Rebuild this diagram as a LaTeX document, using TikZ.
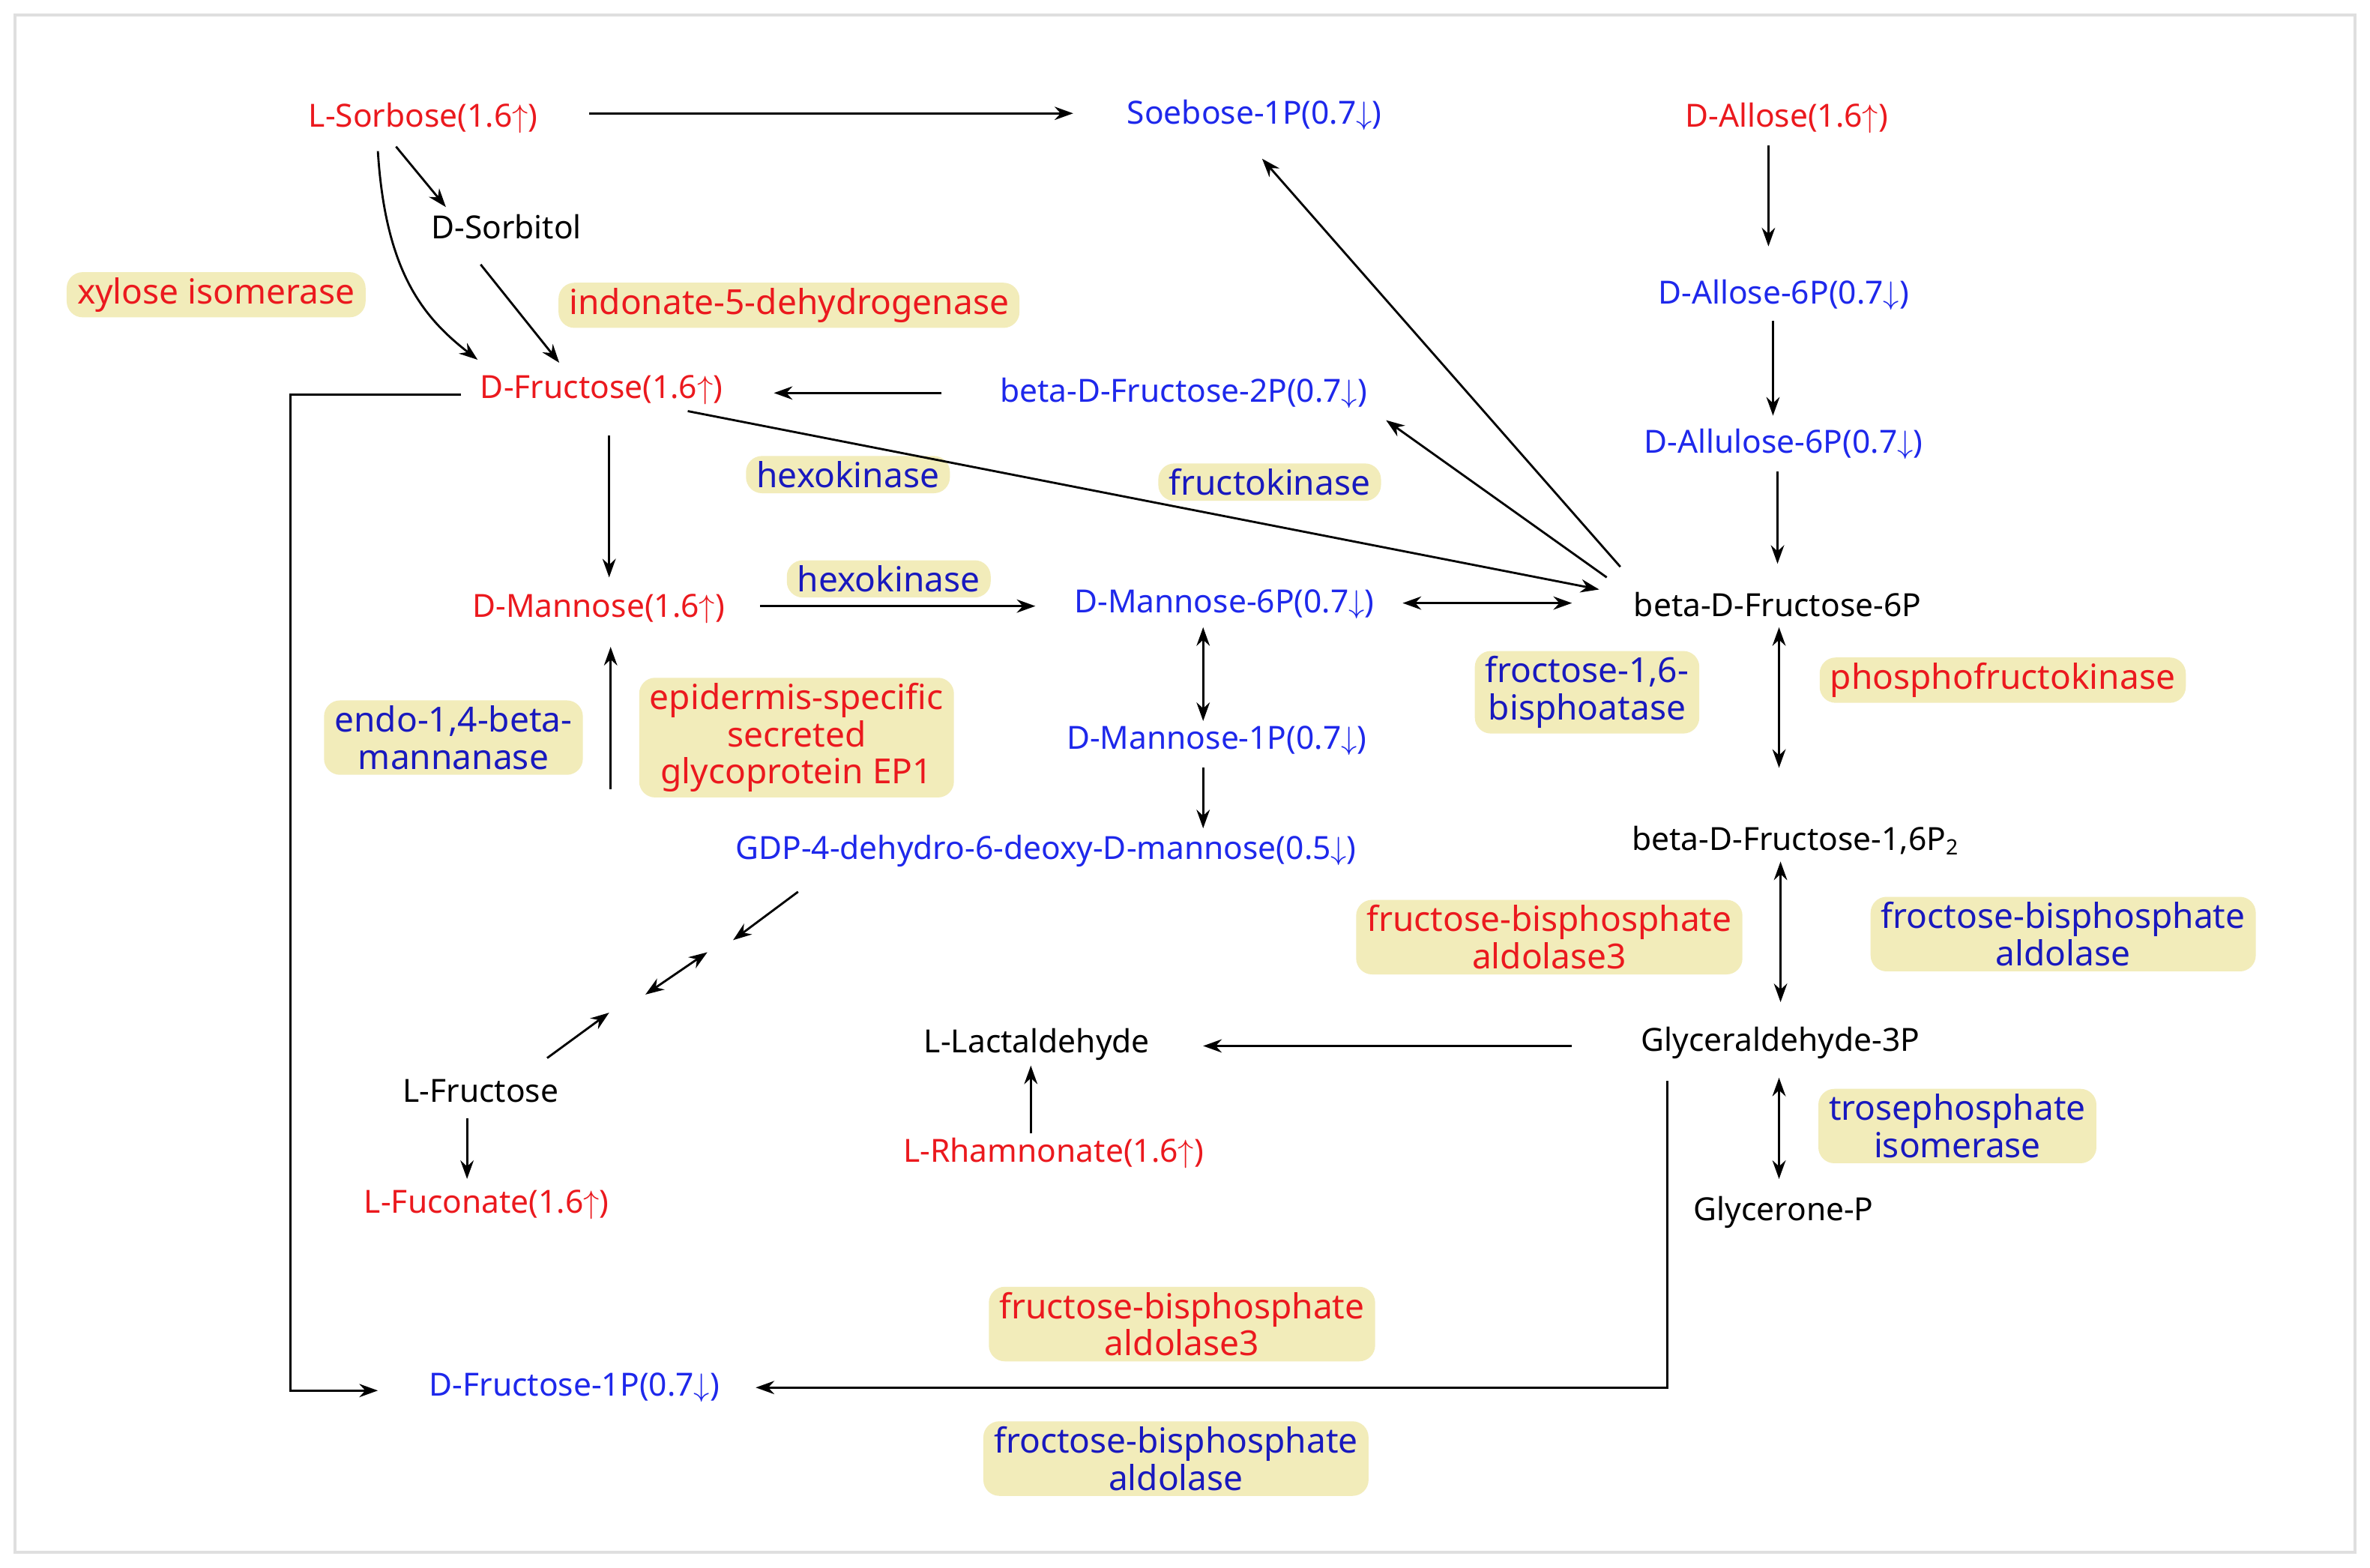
\documentclass[tikz,border=0pt]{standalone}
\usepackage{fontspec}
\setmainfont{Noto Sans}
\usetikzlibrary{arrows.meta}
\definecolor{mred}{RGB}{235,25,30}
\definecolor{mblue}{RGB}{30,40,235}
\definecolor{eblue}{RGB}{25,25,190}
\definecolor{ebg}{RGB}{242,236,186}
\begin{document}
\begin{tikzpicture}[x=0.02cm,y=-0.02cm,
 met/.style={font=\fontsize{12}{13}\selectfont,inner sep=1pt},
 r/.style={met,text=mred}, b/.style={met,text=mblue}, k/.style={met,text=black},
 enz/.style={fill=ebg,rounded corners=6pt,font=\fontsize{13}{14}\selectfont\bfseries,align=center,inner xsep=4pt,inner ysep=2pt},
 er/.style={enz,text=mred}, eb/.style={enz,text=eblue},
 a/.style={-{Stealth[length=7pt,width=5pt]},line width=0.8pt},
 aa/.style={{Stealth[length=7pt,width=5pt]}-{Stealth[length=7pt,width=5pt]},line width=0.8pt}]
\path[use as bounding box,fill=white] (0,0) rectangle (1568,1037);
\draw[gray!25,line width=1.2pt] (10,10) rectangle (1558,1027);
\newcommand{\up}{\ensuremath{\uparrow}}
\newcommand{\dn}{\ensuremath{\downarrow}}
\node[r] (sorb) at (280,78) {L-Sorbose(1.6\up)};
\node[b] (soe) at (830,76) {Soebose-1P(0.7\dn)};
\node[r] (allose) at (1182,78) {D-Allose(1.6\up)};
\node[k] (sorbitol) at (335,150) {D-Sorbitol};
\node[er] (xyl) at (143,195) {xylose isomerase};
\node[er] (indo) at (522,202) {indonate-5-dehydrogenase};
\node[b] (a6p) at (1180,195) {D-Allose-6P(0.7\dn)};
\node[r] (fru) at (398,258) {D-Fructose(1.6\up)};
\node[b] (bf2p) at (783,260) {beta-D-Fructose-2P(0.7\dn)};
\node[b] (al6p) at (1180,294) {D-Allulose-6P(0.7\dn)};
\node[eb] (hexo1) at (561,314) {hexokinase};
\node[eb] (fk) at (840,319) {fructokinase};
\node[r] (man) at (396,403) {D-Mannose(1.6\up)};
\node[eb] (hexo2) at (588,383) {hexokinase};
\node[b] (m6p) at (810,400) {D-Mannose-6P(0.7\dn)};
\node[k] (bf6p) at (1176,400) {beta-D-Fructose-6P};
\node[eb] (fb16) at (1050,458) {froctose-1,6-\\bisphoatase};
\node[er] (pfk) at (1325,450) {phosphofructokinase};
\node[eb] (endo) at (300,488) {endo-1,4-beta-\\mannanase};
\node[er] (epi) at (527,488) {epidermis-specific\\secreted\\glycoprotein EP1};
\node[b] (m1p) at (805,490) {D-Mannose-1P(0.7\dn)};
\node[b] (gdp) at (692,563) {GDP-4-dehydro-6-deoxy-D-mannose(0.5\dn)};
\node[k] (bf16p) at (1188,556) {beta-D-Fructose-1,6P\textsubscript{2}};
\node[er] (fba3) at (1025,620) {fructose-bisphosphate\\aldolase3};
\node[eb] (fba) at (1365,618) {froctose-bisphosphate\\aldolase};
\node[k] (lfru) at (318,722) {L-Fructose};
\node[k] (llact) at (686,691) {L-Lactaldehyde};
\node[k] (g3p) at (1178,690) {Glyceraldehyde-3P};
\node[eb] (trose) at (1295,745) {trosephosphate\\isomerase};
\node[r] (rham) at (697,763) {L-Rhamnonate(1.6\up)};
\node[r] (fuc) at (322,797) {L-Fuconate(1.6\up)};
\node[k] (gly) at (1180,802) {Glycerone-P};
\node[er] (fba3b) at (782,876) {fructose-bisphosphate\\aldolase3};
\node[b] (d1p) at (380,918) {D-Fructose-1P(0.7\dn)};
\node[eb] (fbab) at (778,965) {froctose-bisphosphate\\aldolase};
\coordinate (c1) at (485,622); \coordinate (c2) at (528,590);
\coordinate (c3) at (427,658); \coordinate (c4) at (468,630);
\coordinate (c5) at (362,700); \coordinate (c6) at (403,670);
\draw[a] (390,75) -- (710,75);
\draw[a] (262,97) -- (295,137);
\draw[a] (250,100) .. controls (255,180) and (280,210) .. (316,238);
\draw[a] (318,175) -- (370,240);
\draw[a] (1170,96) -- (1170,163);
\draw[a] (1173,212) -- (1173,275);
\draw[a] (1176,312) -- (1176,373);
\draw[a] (623,260) -- (512,260);
\draw[a] (403,288) -- (403,382);
\draw[a] (455,272) -- (1058,390);
\draw[a] (1072,375) -- (835,105);
\draw[a] (1063,382) -- (917,278);
\draw[a] (503,401) -- (685,401);
\draw[aa] (928,399) -- (1040,399);
\draw[aa] (796,415) -- (796,477);
\draw[a] (796,508) -- (796,548);
\draw[a] (404,522) -- (404,428);
\draw[aa] (1177,415) -- (1177,508);
\draw[aa] (1178,570) -- (1178,663);
\draw[a] (1040,692) -- (796,692);
\draw[a] (682,750) -- (682,705);
\draw[aa] (1177,713) -- (1177,780);
\draw[a] (309,740) -- (309,780);
\draw[a] (c2) -- (c1);
\draw[aa] (c3) -- (c4);
\draw[a] (c5) -- (c6);
\draw[a] (305,261) -- (192,261) -- (192,920) -- (250,920);
\draw[a] (1103,715) -- (1103,918) -- (500,918);
\end{tikzpicture}
\end{document}
